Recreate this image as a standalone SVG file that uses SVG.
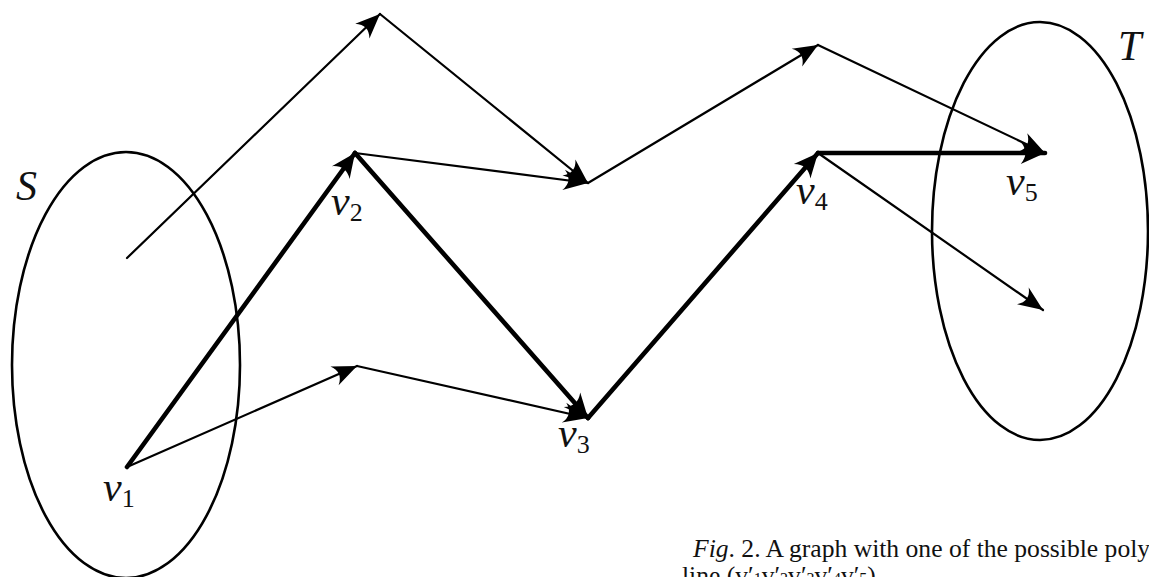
<svg xmlns="http://www.w3.org/2000/svg" width="1149" height="577" viewBox="0 0 1149 577">
<style>
.thin{stroke:#000;stroke-width:2.2;fill:none;stroke-linecap:round}
.thick{stroke:#000;stroke-width:4.6;fill:none;stroke-linecap:round}
.set{stroke:#000;stroke-width:2.6;fill:none}
.lab{font-family:"Liberation Serif","DejaVu Serif",serif;font-style:italic;font-size:42px;fill:#111}
.sub{font-family:"Liberation Serif","DejaVu Serif",serif;font-style:normal;font-size:26px}
.cap{font-family:"Liberation Serif","Times New Roman",serif;font-size:25.6px;fill:#111}
</style>
<defs>
<marker id="ah" markerUnits="userSpaceOnUse" markerWidth="30" markerHeight="30" viewBox="-20 -10 22 20" refX="0" refY="0" orient="auto">
<path d="M0,0 L-18,-7.5 Q-11,0 -18,7.5 Z" fill="#000"/>
</marker>
<marker id="ahb" markerUnits="userSpaceOnUse" markerWidth="30" markerHeight="30" viewBox="-24 -12 26 24" refX="0" refY="0" orient="auto">
<path d="M0,0 L-21,-9.5 Q-13,0 -21,9.5 Z" fill="#000"/>
</marker>
</defs>
<g id="sets">
<ellipse id="S" class="set" cx="126" cy="365" rx="114" ry="213"/>
<ellipse id="T" class="set" cx="1040" cy="231" rx="108" ry="209"/>
</g>
<g id="connectors">
<line class="thin" x1="127" y1="258" x2="380" y2="14" marker-end="url(#ah)"/>
<line class="thin" x1="380" y1="14" x2="588" y2="183" marker-end="url(#ah)"/>
<line class="thin" x1="355" y1="153" x2="588" y2="183" marker-end="url(#ah)"/>
<line class="thin" x1="588" y1="183" x2="818" y2="45" marker-end="url(#ah)"/>
<line class="thin" x1="818" y1="45" x2="1045" y2="153" marker-end="url(#ah)"/>
<line class="thin" x1="127" y1="467" x2="357" y2="366" marker-end="url(#ah)"/>
<line class="thin" x1="357" y1="366" x2="588" y2="418" marker-end="url(#ah)"/>
<line class="thin" x1="818" y1="153" x2="1043" y2="310" marker-end="url(#ah)"/>
<line class="thick" x1="127" y1="467" x2="355" y2="153" marker-end="url(#ahb)"/>
<line class="thick" x1="355" y1="153" x2="588" y2="418" marker-end="url(#ahb)"/>
<line class="thick" x1="588" y1="418" x2="818" y2="153" marker-end="url(#ahb)"/>
<line class="thick" x1="818" y1="153" x2="1045" y2="153" marker-end="url(#ahb)"/>
</g>
<g id="labels">
<text id="lS" class="lab" x="16" y="200" font-size="46">S</text>
<text id="lT" class="lab" x="1118" y="60" font-size="46">T</text>
<text id="v1" class="lab" x="103" y="501">v<tspan class="sub" dy="6">1</tspan></text>
<text id="v2" class="lab" x="331" y="215">v<tspan class="sub" dy="6">2</tspan></text>
<text id="v3" class="lab" x="558" y="447">v<tspan class="sub" dy="6">3</tspan></text>
<text id="v4" class="lab" x="796" y="204">v<tspan class="sub" dy="6">4</tspan></text>
<text id="v5" class="lab" x="1006" y="195">v<tspan class="sub" dy="6">5</tspan></text>
</g>
<g id="caption">
<text class="cap" x="693" y="557"><tspan font-style="italic">Fig</tspan>. 2. A graph with one of the possible poly</text>
<text class="cap" x="682" y="584">line (v′<tspan font-size="16">1</tspan>v′<tspan font-size="16">2</tspan>v′<tspan font-size="16">3</tspan>v′<tspan font-size="16">4</tspan>v′<tspan font-size="16">5</tspan>)</text>
</g>
</svg>
